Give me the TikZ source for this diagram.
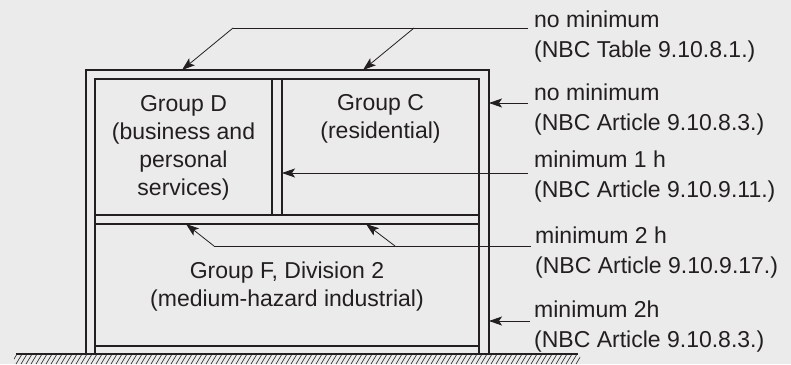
\documentclass[tikz,border=0pt]{standalone}
\usepackage{fontspec}
\setmainfont{Liberation Sans}
\usetikzlibrary{arrows.meta}
\definecolor{ink}{HTML}{231F20}
\definecolor{paper}{HTML}{EBEBEB}
\begin{document}
\begin{tikzpicture}[x=1pt,y=-1pt,
  wall/.style={draw=ink,line width=1.6pt},
  leader/.style={draw=ink,line width=0.8pt},
  pointer/.style={leader,-{Stealth[length=13pt,width=9pt,inset=3pt]}},
  txt/.style={text=ink,inner sep=0pt,font=\fontsize{23}{28}\selectfont},
  room/.style={txt,align=center,anchor=base},
  lbl/.style={txt,align=left,anchor=base west,font=\fontsize{23}{30}\selectfont}]
% page
\fill[paper] (0,0) rectangle (791,364);
\useasboundingbox (0,0) rectangle (791,364);

% ground with hatching
\begin{scope}
  \clip (14,354) rectangle (580,364.5);
  \foreach \x in {6,11,...,580} \draw[ink,line width=0.6pt] (\x,364) -- (\x+6,354);
\end{scope}
\draw[wall] (16,354) -- (578,354);

% outer and inner wall faces
\draw[wall] (86,354) -- (86,70) -- (489,70) -- (489,354);
\draw[wall] (95,354) -- (95,79) -- (479,79) -- (479,354);
\draw[wall] (95,346) -- (479,346);
% floor between storeys
\draw[wall] (95,215) -- (479,215);
\draw[wall] (95,224) -- (479,224);
% partition between suites
\draw[wall] (272,79) -- (272,215);
\draw[wall] (282,79) -- (282,215);

% occupancies (anchored at the baseline of the last line)
\node[room] (gd) at (183.5,195) {Group D\\(business and\\personal\\services)};
\node[room] (gc) at (380.5,138) {Group C\\(residential)};
\node[room] (gf) at (287,306) {Group F, Division 2\\(medium-hazard industrial)};

% requirement labels (anchored at the baseline of the last line)
\node[lbl] (r1) at (534,57) {no minimum\\(NBC Table 9.10.8.1.)};
\node[lbl] (r2) at (534,130) {no minimum\\(NBC Article 9.10.8.3.)};
\node[lbl] (r3) at (534,197) {minimum 1 h\\(NBC Article 9.10.9.11.)};
\node[lbl] (r4) at (535,273) {minimum 2 h\\(NBC Article 9.10.9.17.)};
\node[lbl] (r5) at (534,347) {minimum 2h\\(NBC Article 9.10.8.3.)};

% leader ends and targets
\coordinate (e1) at (528,28);  \coordinate (k1a) at (233,28); \coordinate (k1b) at (414,28);
\coordinate (t1a) at (182,70); \coordinate (t1b) at (363,70);
\coordinate (e2) at (528,103); \coordinate (t2) at (489,103);
\coordinate (e3) at (528,173); \coordinate (t3) at (282,173);
\coordinate (e4) at (531,246); \coordinate (k4a) at (214,246); \coordinate (k4b) at (395,246);
\coordinate (t4a) at (186,224); \coordinate (t4b) at (366,224);
\coordinate (e5) at (530,321); \coordinate (t5) at (489,321);

% leaders
\draw[leader] (e1) -- (k1a);
\draw[pointer] (k1a) -- (t1a);
\draw[pointer] (k1b) -- (t1b);
\draw[pointer] (e2) -- (t2);
\draw[pointer] (e3) -- (t3);
\draw[leader] (e4) -- (k4a);
\draw[pointer] (k4a) -- (t4a);
\draw[pointer] (k4b) -- (t4b);
\draw[pointer] (e5) -- (t5);
\end{tikzpicture}
\end{document}
